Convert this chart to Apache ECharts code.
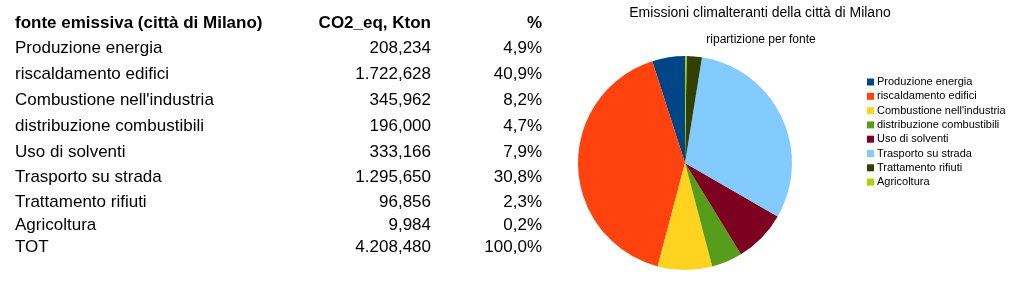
<!DOCTYPE html>
<html>
<head>
<meta charset="utf-8">
<script src="https://cdn.jsdelivr.net/npm/echarts@6/dist/echarts.min.js"></script>
<style>
  html, body { margin: 0; padding: 0; background: #fff; }
  #chart { width: 1024px; height: 281px; }
</style>
</head>
<body>
<div id="chart"></div>
<script>
const fonti = [
  "Produzione energia",
  "riscaldamento edifici",
  "Combustione nell'industria",
  "distribuzione combustibili",
  "Uso di solventi",
  "Trasporto su strada",
  "Trattamento rifiuti",
  "Agricoltura"
];
const kton = [208.234, 1722.628, 345.962, 196.000, 333.166, 1295.650, 96.856, 9.984];
const percentuali = ["4,9%", "40,9%", "8,2%", "4,7%", "7,9%", "30,8%", "2,3%", "0,2%"];
const totale = 4208.480;
const totalePerc = "100,0%";
const colori = ["#004586", "#ff420e", "#ffd320", "#579d1c", "#7e0021", "#83caff", "#314004", "#aecf00"];

// italian number format: 1.722,628
function fmt(v) {
  const parts = v.toFixed(3).split(".");
  const int = parts[0].replace(/\B(?=(\d{3})+(?!\d))/g, ".");
  return int + "," + parts[1];
}

// table layout
const rowY = [48, 74, 100, 126, 152, 177, 202, 225, 247];
const font = "Liberation Sans, Arial, sans-serif";

const graphics = [];
const txt = (x, y, text, align, bold, size) => ({
  type: "text",
  x, y,
  style: {
    text,
    fill: "#000",
    font: (bold ? "bold " : "") + (size || 17) + "px " + font,
    align: align || "left",
    verticalAlign: "middle"
  }
});

graphics.push(txt(15, 23, "fonte emissiva (città di Milano)", "left", true));
graphics.push(txt(431, 23, "CO2_eq, Kton", "right", true));
graphics.push(txt(542, 23, "%", "right", true));

const rows = fonti.map((f, i) => [f, fmt(kton[i]), percentuali[i]]);
rows.push(["TOT", fmt(totale), totalePerc]);
rows.forEach((r, i) => {
  graphics.push(txt(15, rowY[i], r[0], "left"));
  graphics.push(txt(431, rowY[i], r[1], "right"));
  graphics.push(txt(542, rowY[i], r[2], "right"));
});

graphics.push(txt(760, 13, "Emissioni climalteranti della città di Milano", "center", false, 14));
graphics.push(txt(761, 40, "ripartizione per fonte", "center", false, 12));

const chart = echarts.init(document.getElementById("chart"));
chart.setOption({
  animation: false,
  color: colori,
  graphic: graphics,
  legend: {
    orient: "vertical",
    left: 867,
    top: 75,
    padding: 0,
    icon: "rect",
    itemWidth: 7,
    itemHeight: 7,
    itemGap: 0.3,
    textStyle: { fontFamily: font, fontSize: 11, color: "#000", lineHeight: 14, padding: [0, 0, 0, -2] },
    data: fonti
  },
  series: [
    {
      type: "pie",
      center: [685, 163],
      radius: 107,
      startAngle: 90,
      clockwise: false,
      label: { show: false },
      labelLine: { show: false },
      emphasis: { disabled: true },
      itemStyle: { borderWidth: 0 },
      data: fonti.map((name, i) => ({ name, value: kton[i] }))
    }
  ]
});
</script>
</body>
</html>
